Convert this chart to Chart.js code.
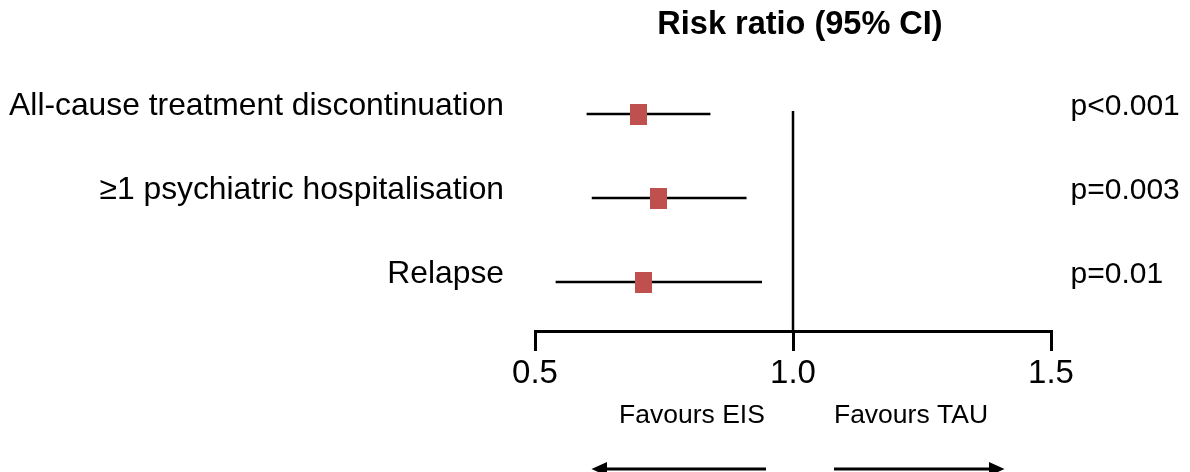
<!DOCTYPE html>
<html>
<head>
<meta charset="utf-8">
<title>Risk ratio forest plot</title>
<script src="https://cdn.jsdelivr.net/npm/chart.js@4.4.1/dist/chart.umd.min.js"></script>
<style>
  html, body { margin: 0; padding: 0; background: #ffffff; }
  #wrap { width: 1190px; height: 472px; position: relative; }
</style>
</head>
<body>
<div id="wrap"><canvas id="forest" width="1190" height="472"></canvas></div>
<script>
// Outcomes, point estimates, 95% CI bounds and p-values
const outcomes = ['All-cause treatment discontinuation', '\u22651 psychiatric hospitalisation', 'Relapse'];
const riskRatio = [0.70, 0.74, 0.71];
const ciLower = [0.60, 0.61, 0.54];
const ciUpper = [0.84, 0.91, 0.94];
const pValues = ['p<0.001', 'p=0.003', 'p=0.01'];
const xTicks = [0.5, 1.0, 1.5];
const nullValue = 1.0;

const FONT = '"Liberation Sans", Arial, Helvetica, sans-serif';
const MARKER_COLOR = '#C0504D';

// Row positions on the vertical scale (1 = top row)
const rowIndex = outcomes.map((_, i) => i + 1);

// Rectangular marker used as the point style
const marker = document.createElement('canvas');
marker.width = 17;
marker.height = 21;
(function () {
  const m = marker.getContext('2d');
  m.fillStyle = MARKER_COLOR;
  m.fillRect(0, 0, marker.width, marker.height);
})();

// Whiskers, the line of no effect, row labels, p-values and direction arrows
const forestPlugin = {
  id: 'forestDecor',
  beforeDatasetsDraw(chart) {
    const { ctx, chartArea, scales: { x, y } } = chart;
    ctx.save();
    ctx.strokeStyle = '#000';
    ctx.lineCap = 'butt';
    // line of no effect
    ctx.lineWidth = 2.5;
    const xn = x.getPixelForValue(nullValue);
    ctx.beginPath();
    ctx.moveTo(xn, y.getPixelForValue(rowIndex[0]) - 3);
    ctx.lineTo(xn, chartArea.bottom);
    ctx.stroke();
    // confidence intervals
    ctx.lineWidth = 2.5;
    rowIndex.forEach((r, i) => {
      const py = y.getPixelForValue(r);
      ctx.beginPath();
      ctx.moveTo(x.getPixelForValue(ciLower[i]), py);
      ctx.lineTo(x.getPixelForValue(ciUpper[i]), py);
      ctx.stroke();
    });
    ctx.restore();
  },
  afterDraw(chart) {
    const { ctx, scales: { x, y } } = chart;
    ctx.save();
    ctx.fillStyle = '#000';
    ctx.textBaseline = 'alphabetic';

    // heading
    ctx.font = 'bold 32.5px ' + FONT;
    ctx.textAlign = 'center';
    ctx.fillText('Risk ratio (95% CI)', 800, 34);

    // outcome names and p-values
    rowIndex.forEach((r, i) => {
      const py = y.getPixelForValue(r) + 0.5;
      ctx.font = '31.8px ' + FONT;
      ctx.textAlign = 'right';
      ctx.fillText(outcomes[i], 504, py);
      ctx.font = '30px ' + FONT;
      ctx.textAlign = 'left';
      ctx.fillText(pValues[i], 1070.5, py);
    });

    // direction captions
    ctx.font = '26.5px ' + FONT;
    ctx.textAlign = 'center';
    ctx.fillText('Favours EIS', 692, 423);
    ctx.fillText('Favours TAU', 911, 423);

    // arrows
    const ay = 469;
    ctx.strokeStyle = '#000';
    ctx.lineWidth = 3;
    ctx.beginPath();
    ctx.moveTo(766, ay); ctx.lineTo(604, ay);
    ctx.moveTo(834, ay); ctx.lineTo(991, ay);
    ctx.stroke();
    ctx.beginPath();
    ctx.moveTo(591.5, ay); ctx.lineTo(607, ay - 7); ctx.lineTo(607, ay + 7); ctx.closePath();
    ctx.moveTo(1004.5, ay); ctx.lineTo(989, ay - 7); ctx.lineTo(989, ay + 7); ctx.closePath();
    ctx.fill();
    ctx.restore();
  }
};

Chart.defaults.color = '#000';
Chart.defaults.font.family = FONT;

new Chart(document.getElementById('forest'), {
  type: 'scatter',
  data: {
    datasets: [{
      label: 'Risk ratio',
      data: riskRatio.map((v, i) => ({ x: v, y: rowIndex[i] })),
      pointStyle: marker,
      pointRadius: 10,
      pointHoverRadius: 10,
      backgroundColor: MARKER_COLOR,
      borderColor: MARKER_COLOR
    }]
  },
  options: {
    responsive: false,
    animation: false,
    events: [],
    layout: { padding: { left: 535, right: 139, top: 72, bottom: 61 } },
    plugins: { legend: { display: false }, tooltip: { enabled: false }, title: { display: false } },
    scales: {
      x: {
        type: 'linear',
        position: 'bottom',
        min: xTicks[0],
        max: xTicks[xTicks.length - 1],
        afterBuildTicks(scale) { scale.ticks = xTicks.map(v => ({ value: v })); },
        afterFit(scale) { scale.height = 80; },
        ticks: {
          font: { size: 33, family: FONT },
          color: '#000',
          padding: 3,
          maxRotation: 0,
          callback: v => Number(v).toFixed(1)
        },
        grid: { drawOnChartArea: false, drawTicks: true, tickLength: 20, color: '#000', lineWidth: 3 },
        border: { display: true, color: '#000', width: 3 }
      },
      y: {
        type: 'linear',
        display: false,
        reverse: true,
        min: 0.5,
        max: 3 + 49 / 84
      }
    }
  },
  plugins: [forestPlugin]
});
</script>
</body>
</html>
